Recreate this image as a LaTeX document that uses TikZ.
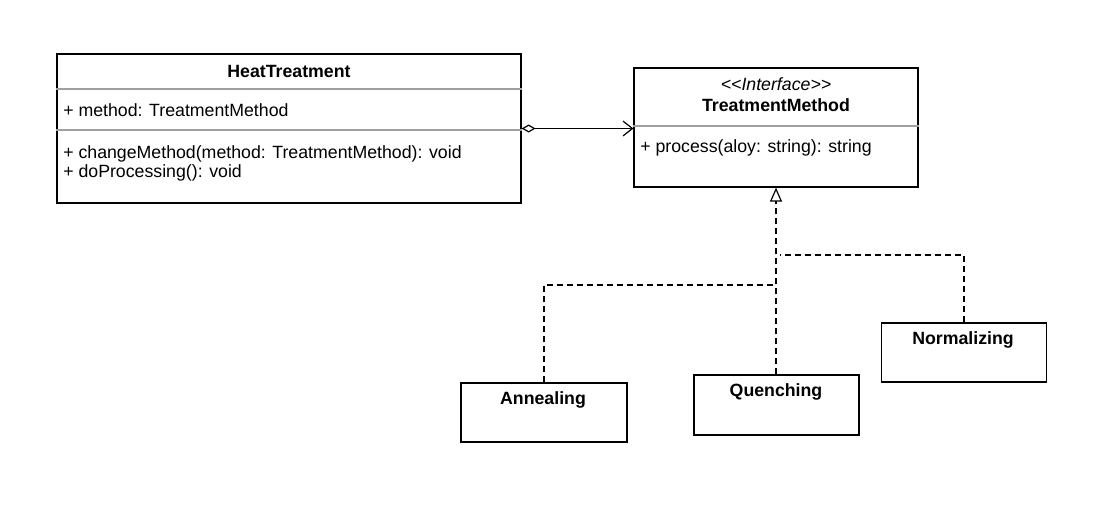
\documentclass[tikz,border=0pt]{standalone}
\usepackage{fontspec}
\setmainfont{Liberation Sans}
\usepackage{xcolor}
\usepackage{tikz}
\usetikzlibrary{arrows.meta}
\definecolor{umlLine}{HTML}{000000}
\definecolor{umlSep}{HTML}{A0A0A0}

\tikzset{
  classbox/.style={draw=umlLine, line width=0.9pt, fill=white, inner sep=0pt},
  umltext/.style={font=\fontsize{13.3}{16}\selectfont, inner sep=0pt},
  realize/.style={dashed, dash pattern=on 4.5pt off 3pt, line width=0.9pt}
}

\begin{document}
\begin{tikzpicture}[x=0.75pt, y=-0.75pt]
  \useasboundingbox (0,0) rectangle (1120,504);
  \node[classbox, minimum width=348pt, minimum height=111.75pt] (ht) at (289,128.5) {};
  \node[classbox, minimum width=213pt, minimum height=89.25pt] (tm) at (776,127.5) {};
  \node[classbox, minimum width=124.5pt, minimum height=44.25pt] (an) at (544,412.5) {};
  \node[classbox, minimum width=123.75pt, minimum height=45pt] (qu) at (776.5,405) {};
  \node[classbox, minimum width=123.75pt, minimum height=44.25pt] (no) at (964,352.5) {};

  \draw[umlSep, line width=0.9pt] (ht.west |- 0,89) -- (ht.east |- 0,89);
  \draw[umlSep, line width=0.9pt] (ht.west |- 0,130) -- (ht.east |- 0,130);
  \draw[umlSep, line width=0.9pt] (tm.west |- 0,126) -- (tm.east |- 0,126);

  \node[umltext, font=\fontsize{13.3}{16}\selectfont\bfseries] (htName) at (289,71) {HeatTreatment};
  \node[umltext, anchor=west] (htAttr) at (63,110) {+ method: TreatmentMethod};
  \node[umltext, anchor=west] (htOp1) at (63,154) {+ changeMethod(method: TreatmentMethod): void};
  \node[umltext, anchor=west] (htOp2) at (63,173) {+ doProcessing(): void};

  \node[umltext, font=\fontsize{13.3}{16}\selectfont\itshape] (tmStereo) at (776,84) {<{}<Interface>{}>};
  \node[umltext, font=\fontsize{13.3}{16}\selectfont\bfseries] (tmName) at (776,105) {TreatmentMethod};
  \node[umltext, anchor=west] (tmOp) at (640,148) {+ process(aloy: string): string};

  \node[umltext, font=\fontsize{13.3}{16}\selectfont\bfseries] (anName) at (543,400) {Annealing};
  \node[umltext, font=\fontsize{13.3}{16}\selectfont\bfseries] (quName) at (776,392) {Quenching};
  \node[umltext, font=\fontsize{13.3}{16}\selectfont\bfseries] (noName) at (963,340) {Normalizing};

  \draw[line width=0.9pt, {Diamond[open,length=10.5pt,width=6pt,line width=0.9pt]}-{Straight Barb[length=7pt,width=11pt,line width=0.9pt]}] (ht.east) -- (ht.east -| tm.west);

  \coordinate (jA) at (776,285);
  \coordinate (jN) at (780,255);
  \draw[realize, -{Triangle[open,length=10.5pt,width=9pt,line width=0.9pt]}] (qu.north -| tm.south) -- (tm.south);
  \draw[realize] (an.north) |- (jA);
  \draw[realize] (no.north) |- (jN);
\end{tikzpicture}
\end{document}
